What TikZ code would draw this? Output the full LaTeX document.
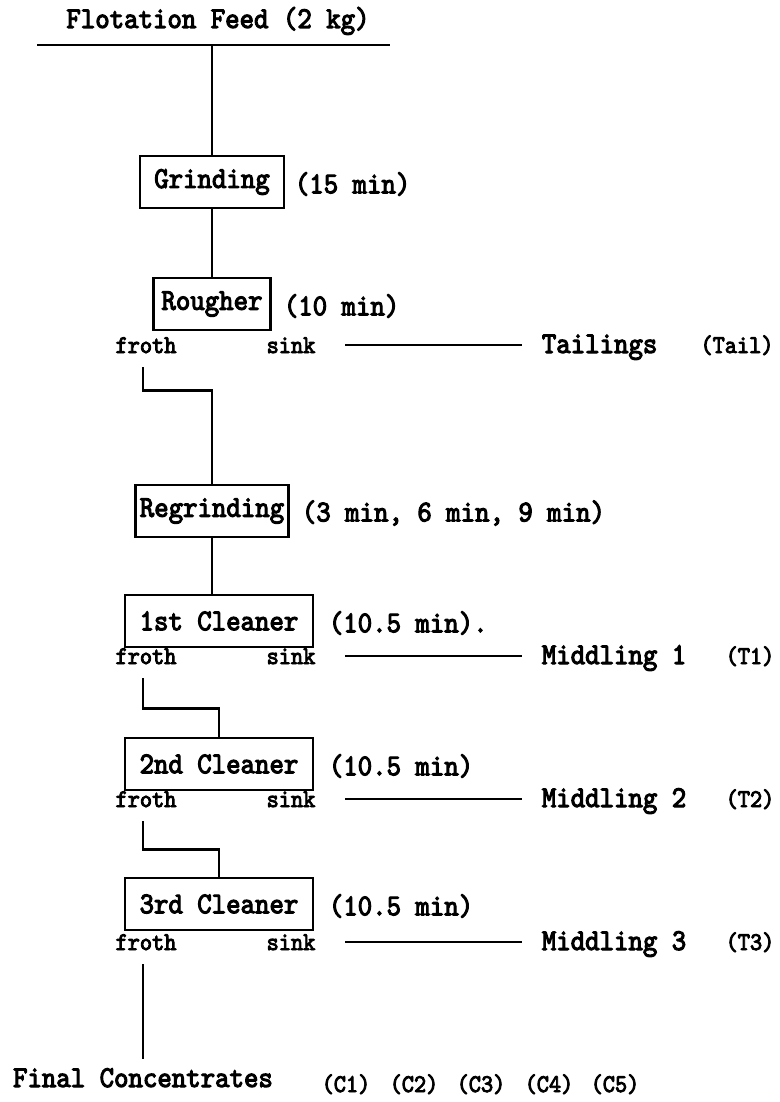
\documentclass[tikz,border=0pt]{standalone}
\usepackage{fontspec}
\newfontfamily\flowfont{lmmono10-regular.otf}[FakeBold=3.5,FakeStretch=0.91]
\usetikzlibrary{positioning}
\newcommand{\bigtype}{\flowfont\fontsize{17.2}{20}\selectfont}
\newcommand{\smalltype}{\flowfont\fontsize{14.5}{17}\selectfont}

\begin{document}
\begin{tikzpicture}[
    x=0.02cm, y=-0.02cm,
    unit/.style={draw,line width=1.3pt,font=\bigtype,minimum height=1.04cm,inner xsep=0pt},
    txt/.style={font=\bigtype,inner sep=2pt},
    tag/.style={font=\smalltype,inner sep=2pt},
    flow/.style={line width=1.7pt},
    split/.style={line width=1pt,shorten <=0.52cm,shorten >=0.32cm}
  ]
  \useasboundingbox (0,0) rectangle (779,1102);

  \node[txt,anchor=base] (feed) at (218,28) {Flotation Feed (2 kg)};
  \coordinate (feedL) at (37,45);
  \coordinate (feedR) at (390,45);
  \coordinate (feedjoin) at (212,45);

  \node[unit,minimum width=2.88cm] (grind) at (212,182) {Grinding};
  \node[txt,anchor=west] (grindtime) at (291,184) {(15 min)};
  \node[unit,minimum width=2.34cm] (rough) at (212,304) {Rougher};
  \node[txt,anchor=west] (roughtime) at (280,306) {(10 min)};

  \node[tag,anchor=base] (froth1) at (146,353) {froth};
  \node[tag,anchor=base] (sink1) at (291,353) {sink};
  \node[txt,anchor=base west] (tail) at (538,353) {Tailings};
  \node[tag,anchor=base] (tailtag) at (737,353) {(Tail)};

  \node[unit,minimum width=3.06cm] (regrind) at (212,511) {Regrinding};
  \node[txt,anchor=west] (regrindtime) at (298,513) {(3 min, 6 min, 9 min)};

  \node[unit,minimum width=3.76cm] (clean1) at (219,621) {1st Cleaner};
  \node[txt,anchor=west] (clean1time) at (325,623) {(10.5 min).};
  \node[tag,anchor=base] (froth2) at (146,664) {froth};
  \node[tag,anchor=base] (sink2) at (291,664) {sink};
  \node[txt,anchor=base west] (mid1) at (538,664) {Middling 1};
  \node[tag,anchor=base] (t1) at (750,664) {(T1)};

  \node[unit,minimum width=3.76cm] (clean2) at (219,764) {2nd Cleaner};
  \node[txt,anchor=west] (clean2time) at (325,766) {(10.5 min)};
  \node[tag,anchor=base] (froth3) at (146,807) {froth};
  \node[tag,anchor=base] (sink3) at (291,807) {sink};
  \node[txt,anchor=base west] (mid2) at (538,807) {Middling 2};
  \node[tag,anchor=base] (t2) at (750,807) {(T2)};

  \node[unit,minimum width=3.76cm] (clean3) at (219,904) {3rd Cleaner};
  \node[txt,anchor=west] (clean3time) at (325,906) {(10.5 min)};
  \node[tag,anchor=base] (froth4) at (146,950) {froth};
  \node[tag,anchor=base] (sink4) at (291,950) {sink};
  \node[txt,anchor=base west] (mid3) at (538,950) {Middling 3};
  \node[tag,anchor=base] (t3) at (750,950) {(T3)};

  \node[txt,anchor=base] (final) at (143,1087) {Final Concentrates};
  \foreach \k/\cx in {1/346,2/414,3/481,4/549,5/615}
    \node[tag,anchor=base] (c\k) at (\cx,1092) {(C\k)};

  \draw[flow] (feedL) -- (feedR);
  \draw[flow] (feedjoin) -- (feedjoin |- grind.north);
  \draw[flow] (grind) -- (rough);
  \draw[flow,shorten <=0.2cm] ([xshift=-0.06cm]froth1.south) -- ++(0,33) -| (regrind.north);
  \draw[flow] (regrind.south) -- (regrind.south |- clean1.north);
  \draw[flow,shorten <=0.2cm] ([xshift=-0.06cm]froth2.south) -- ++(0,40) -| (clean2.north);
  \draw[flow,shorten <=0.2cm] ([xshift=-0.06cm]froth3.south) -- ++(0,38) -| (clean3.north);
  \draw[flow,shorten <=0.2cm,shorten >=0.1cm] ([xshift=-0.06cm]froth4.south) -- ([xshift=-0.06cm]froth4.south |- final.north);

  \draw[split] (sink1.east) -- (sink1.east -| tail.west);
  \draw[split] (sink2.east) -- (sink2.east -| mid1.west);
  \draw[split] (sink3.east) -- (sink3.east -| mid2.west);
  \draw[split] (sink4.east) -- (sink4.east -| mid3.west);
\end{tikzpicture}
\end{document}
